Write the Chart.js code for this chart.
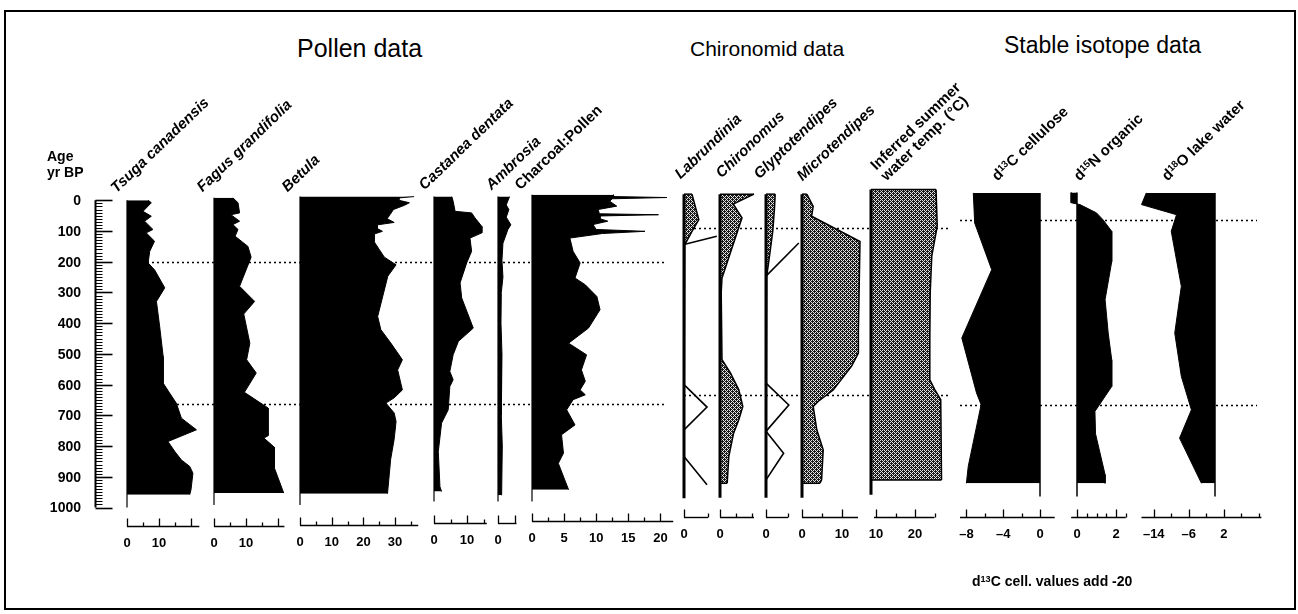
<!DOCTYPE html>
<html>
<head>
<meta charset="utf-8">
<script src="https://cdn.jsdelivr.net/npm/chart.js@4.4.1/dist/chart.umd.min.js"></script>
<style>
  html, body { margin: 0; padding: 0; background: #fff; }
  body { position: relative; width: 1298px; height: 614px; overflow: hidden;
         font-family: "Liberation Sans", Arial, Helvetica, sans-serif; color: #000; }
  #frame { position: absolute; left: 4px; top: 10px; width: 1292px; height: 600px;
           box-sizing: border-box; border: 2px solid #000; }
  canvas { position: absolute; }
  .head { position: absolute; white-space: nowrap; line-height: 1; }
  .ttl { position: absolute; white-space: nowrap; font-weight: bold; font-size: 15px; line-height: 15px;
         transform-origin: 0 100%; transform: rotate(-44deg); }
  .ttl.it { font-style: italic; }
  .lbl { position: absolute; white-space: nowrap; font-weight: bold; }
  sup { font-size: 0.65em; line-height: 0; vertical-align: 0.45em; }
</style>
</head>
<body>
<div id="frame"></div>
<script>
// ---- age axis (yr BP) and zone boundaries ----
const ageTicks = [0, 100, 200, 300, 400, 500, 600, 700, 800, 900, 1000];
const zonesPollen = [200, 662];
const zonesChiro = [90, 633];
const zonesIso = [63, 665];

// ---- pollen percentages ----
const tsugaAge = [0, 8, 36, 52, 68, 95, 106, 133, 166, 204, 226, 285, 329, 410, 508, 595, 627, 660, 709, 747, 785, 817, 845, 866, 888, 942, 958];
const tsugaVal = [6.6, 7.6, 5.0, 7.6, 5.5, 8.1, 6.0, 8.6, 7.1, 6.6, 8.6, 11.8, 9.2, 10.2, 11.3, 11.3, 13.3, 15.4, 17.0, 21.7, 12.8, 14.9, 17.0, 19.6, 20.6, 20.0, 19.6];

const fagusAge = [-8, 8, 41, 47, 68, 79, 95, 117, 150, 185, 280, 329, 370, 465, 519, 562, 625, 676, 766, 774, 804, 872, 953];
const fagusVal = [5.9, 7.5, 8.0, 5.3, 8.0, 5.9, 7.5, 6.6, 10.6, 11.6, 8.0, 12.7, 9.3, 11.2, 10.2, 13.2, 9.5, 16.9, 16.9, 15.6, 18.9, 18.9, 21.8];

const betulaAge = [-12, -8, 0, 8, 16, 30, 45, 60, 72, 80, 92, 101, 110, 135, 160, 185, 210, 247, 378, 421, 464, 519, 552, 617, 643, 660, 692, 720, 778, 843, 955];
const betulaVal = [36, 31.5, 31.2, 34.5, 33, 29.5, 28.5, 27.5, 29.7, 24.4, 24.4, 26, 23.4, 23.4, 25, 26.6, 30.3, 27.7, 24.5, 25.5, 28.6, 32.3, 30.8, 32.3, 29.7, 27.1, 29.7, 30.3, 29.7, 28.6, 27.6];

const castaneaAge = [-12, 3, 36, 41, 57, 85, 106, 123, 166, 204, 269, 318, 416, 459, 503, 557, 584, 606, 682, 725, 818, 932, 948];
const castaneaVal = [5.4, 5.8, 6.4, 11.4, 12.4, 14.5, 14.5, 10.9, 11.4, 9.9, 7.9, 8.4, 11.9, 7.4, 5.8, 4.8, 5.8, 4.8, 4.3, 2.3, 1.3, 1.8, 2.3];

const ambrosiaAge = [-12, 15, 30, 55, 80, 95, 140, 195, 250, 300, 400, 500, 700, 800, 960];
const ambrosiaVal = [3.5, 2.5, 3.3, 2.5, 3.9, 3.0, 1.5, 1.2, 1.5, 1.0, 0.9, 1.2, 1.0, 1.3, 1.1];

const charcoalAge = [-18, -12, -9, -5, 3, 19, 30, 44, 47, 51, 60, 68, 79, 95, 101, 108, 123, 166, 204, 253, 275, 313, 356, 416, 465, 503, 552, 589, 617, 633, 649, 682, 731, 763, 823, 856, 942];
const charcoalVal = [12.7, 12.7, 21, 12.5, 12.1, 13.2, 10.3, 10.5, 19.7, 10.6, 10.6, 11.8, 9.5, 10, 17.6, 11, 5.9, 6.4, 7.5, 6.7, 8.3, 10.1, 10.6, 8.8, 5.7, 8.5, 7.7, 8.3, 7.5, 8.3, 6.4, 5.4, 6.7, 4.6, 4.9, 4.1, 5.7];

// ---- chironomids (%) and exaggeration outlines ----
const labAge = [-20, 63, 101, 144, 920];
const labVal = [2.0, 3.7, 2.0, 0.2, 0];
const labExTopAge = [144, 117];
const labExTopVal = [0, 8.2];
const labExLowAge = [600, 673, 747, 834, 926];
const labExLowVal = [0, 5.75, 0, 0, 5.75];

const chiroAge = [-20, 12, 57, 253, 300, 519, 562, 617, 671, 714, 758, 834, 921];
const chiroVal = [8.5, 3.3, 5.5, 0.5, 0.3, 0.5, 2.6, 4.7, 5.7, 4.7, 3.4, 2.2, 1.8];

const glypAge = [-20, 30, 100, 170, 245, 920];
const glypVal = [2.3, 2.1, 1.7, 1.0, 0.2, 0];
const glypExTopAge = [247, 139];
const glypExTopVal = [0, 8.2];
const glypExLowAge = [595, 666, 752, 823, 910];
const glypExLowVal = [0, 5.7, 0, 4.4, 0];

const microAge = [-20, 20, 52, 134, 421, 497, 540, 617, 654, 671, 747, 812, 910, 921];
const microVal = [1.2, 2.8, 2.4, 14.5, 14.1, 14.1, 12.4, 7.8, 4.1, 2.8, 3.7, 5.3, 4.9, 4.5];

const tempAge = [-35, 84, 182, 300, 450, 584, 617, 649, 910];
const tempVal = [25.4, 25.7, 24.3, 23.9, 23.8, 23.8, 25.1, 26.6, 26.8];

// ---- stable isotopes ----
const d13cAge = [-24, 74, 226, 448, 627, 665, 866, 921];
const d13cVal = [-7.25, -7.1, -5.25, -8.5, -6.9, -6.4, -7.8, -8.0];
const d15nAge = [-25, 8, 14, 41, 63, 101, 200, 323, 432, 519, 606, 687, 760, 893, 921];
const d15nVal = [-0.3, -0.3, 0.15, 1.0, 1.33, 1.78, 1.78, 1.44, 1.6, 1.78, 1.78, 0.92, 0.95, 1.44, 1.44];
const d18oAge = [-24, 14, 47, 101, 280, 432, 573, 682, 774, 921];
const d18oVal = [-15.7, -16.8, -8.8, -10, -7.7, -9.2, -7.7, -5.4, -8.1, -3.1];

// ---- x tick labels ----
const pctLabels = [0, 10];
const betulaLabels = [0, 10, 20, 30];
const charcoalLabels = [0, 5, 10, 15, 20];
const zeroLabel = [0];
const tempLabels = [10, 20];
const d13cLabels = [-8, -4, 0];
const d15nLabels = [0, 2];
const d18oLabels = [-14, -6, 2];

// ---- layout ----
const PAD_X = 20, PAD_T = 8, PAD_B = 60;
const AREA_TOP = 188, AREA_H = 338;
const AGE_MIN = -40, AGE_MAX = 1060;
const CANVAS_TOP = AREA_TOP - PAD_T;
const FONT = '"Liberation Sans", Arial, sans-serif';

// a = page px of value 0, k = px per unit; left/right = chart area extent in page px
const panels = [
  { ages: tsugaAge, vals: tsugaVal, a: 127, k: 3.2, left: 127, right: 214, zones: zonesPollen, baseW: 1.2, baseEnd: 1000,
    axisY: 526, axis: [0, 22.6], tick0: 0, step: 5, labels: pctLabels, major: [20] },
  { ages: fagusAge, vals: fagusVal, a: 214, k: 3.2, left: 214, right: 300, zones: zonesPollen, baseW: 1.2, baseEnd: 992,
    axisY: 526, axis: [0, 22], tick0: 0, step: 5, labels: pctLabels, major: [20] },
  { ages: betulaAge, vals: betulaVal, a: 300, k: 3.17, left: 300, right: 434, zones: zonesPollen, baseW: 1.2, baseEnd: 992,
    axisY: 525, axis: [0, 37.3], tick0: 0, step: 5, labels: betulaLabels },
  { ages: castaneaAge, vals: castaneaVal, a: 434, k: 3.3, left: 434, right: 498, zones: zonesPollen, baseW: 1.2, baseEnd: 980,
    axisY: 523, axis: [0, 16], tick0: 0, step: 5, labels: pctLabels },
  { ages: ambrosiaAge, vals: ambrosiaVal, a: 498, k: 3.3, left: 498, right: 532, zones: zonesPollen, baseW: 1.2, baseEnd: 980,
    axisY: 523, axis: [0, 5.6], tick0: 0, step: 5, labels: zeroLabel, major: [5] },
  { ages: charcoalAge, vals: charcoalVal, a: 532, k: 6.42, left: 532, right: 667, zones: zonesPollen, baseW: 1.2, baseEnd: 980,
    axisY: 521, axis: [0, 22], tick0: 0, step: 2.5, labels: charcoalLabels },

  { ages: labAge, vals: labVal, a: 684, k: 4, left: 684, right: 720, zones: zonesChiro, baseW: 3, baseEnd: 970, pattern: true,
    outlines: [[labExTopAge, labExTopVal], [labExLowAge, labExLowVal]],
    axisY: 517, axis: [0, 6], tick0: 0, step: 6, labels: zeroLabel },
  { ages: chiroAge, vals: chiroVal, a: 720, k: 4, left: 720, right: 766, zones: zonesChiro, baseW: 3, baseEnd: 968, pattern: true,
    axisY: 517, axis: [0, 8.5], tick0: 0, step: 4, labels: zeroLabel },
  { ages: glypAge, vals: glypVal, a: 766, k: 4, left: 766, right: 802, zones: zonesChiro, baseW: 3, baseEnd: 968, pattern: true,
    outlines: [[glypExTopAge, glypExTopVal], [glypExLowAge, glypExLowVal]],
    axisY: 517, axis: [0, 5.5], tick0: 0, step: 5.5, labels: zeroLabel },
  { ages: microAge, vals: microVal, a: 802, k: 4, left: 802, right: 871, zones: zonesChiro, baseW: 3, baseEnd: 968, pattern: true,
    axisY: 517, axis: [0, 14], tick0: 0, step: 5, labels: pctLabels },
  { ages: tempAge, vals: tempVal, a: 837, k: 3.9, left: 871, right: 948, zones: zonesChiro, baseW: 3, baseEnd: 958, pattern: true, baseAtLeft: true,
    axisY: 517, axis: [9.5, 25], tick0: 10, step: 5, labels: tempLabels },

  { ages: d13cAge, vals: d13cVal, a: 1040, k: 9.2, left: 960, right: 1070, zones: zonesIso, baseW: 1.5, baseEnd: 964,
    axisY: 517, axis: [-8.7, 1.6], tick0: -8, step: 2, labels: d13cLabels },
  { ages: d15nAge, vals: d15nVal, a: 1077, k: 19.5, left: 1070, right: 1141, zones: zonesIso, baseW: 1.5, baseEnd: 964,
    axisY: 517, axis: [-0.3, 2.5], tick0: 0, step: 0.5, labels: d15nLabels },
  { ages: d18oAge, vals: d18oVal, a: 1215, k: 4.375, left: 1141, right: 1257, zones: zonesIso, baseW: 1.5, baseEnd: 964,
    axisY: 517, axis: [-16.8, 10.6], tick0: -14, step: 4, labels: d18oLabels }
];

// stippled grey, like the scanned screen tone
function grain(ctx) {
  const t = document.createElement('canvas');
  t.width = 4; t.height = 4;
  const g = t.getContext('2d');
  g.fillStyle = '#e4e4e4'; g.fillRect(0, 0, 4, 4);
  g.fillStyle = '#1a1a1a';
  ['1010', '0111', '1010', '1101'].forEach((row, j) => {
    [...row].forEach((c, i) => { if (c === '1') g.fillRect(i, j, 1, 1); });
  });
  return ctx.createPattern(t, 'repeat');
}

function series(ages, vals) {
  return ages.map((age, i) => ({ x: vals[i], y: age }));
}

function fmt(v) {
  return v < 0 ? '\u2013' + Math.abs(v) : String(v);
}

// zone lines under the curves, zero line + x axis (ticks pointing up) on top
function panelPlugin(p, base) {
  return {
    id: 'strat',
    beforeDatasetsDraw(chart) {
      const { ctx, chartArea: ca, scales: { y } } = chart;
      ctx.save();
      ctx.strokeStyle = '#000';
      ctx.lineWidth = 1.6;
      ctx.setLineDash([2, 3]);
      p.zones.forEach(age => {
        const py = Math.round(y.getPixelForValue(age)) + 0.5;
        ctx.beginPath(); ctx.moveTo(ca.left, py); ctx.lineTo(ca.right, py); ctx.stroke();
      });
      ctx.restore();
    },
    afterDatasetsDraw(chart) {
      const { ctx, scales: { x, y } } = chart;
      ctx.save();
      ctx.strokeStyle = '#000';
      ctx.fillStyle = '#000';
      const bx = x.getPixelForValue(base);
      ctx.lineWidth = p.baseW;
      ctx.beginPath();
      ctx.moveTo(bx, y.getPixelForValue(p.ages[0]));
      ctx.lineTo(bx, y.getPixelForValue(p.baseEnd));
      ctx.stroke();

      if (p.pattern) {
        const pts = chart.getDatasetMeta(0).data;
        ctx.lineWidth = 1.5;
        [pts[0], pts[pts.length - 1]].forEach(pt => {
          ctx.beginPath(); ctx.moveTo(bx, pt.y); ctx.lineTo(pt.x, pt.y); ctx.stroke();
        });
      }

      const ay = p.axisY - CANVAS_TOP + 0.5;
      ctx.lineWidth = 1.4;
      ctx.beginPath();
      ctx.moveTo(x.getPixelForValue(p.axis[0]), ay);
      ctx.lineTo(x.getPixelForValue(p.axis[1]), ay);
      ctx.stroke();

      const major = p.labels.concat(p.major || []);
      ctx.lineWidth = 1.3;
      for (let v = p.tick0; v <= p.axis[1] + 1e-9; v += p.step) {
        const px = Math.round(x.getPixelForValue(v)) + 0.5;
        const h = major.some(m => Math.abs(m - v) < 1e-6) ? 8 : 4;
        ctx.beginPath(); ctx.moveTo(px, ay); ctx.lineTo(px, ay - h); ctx.stroke();
      }

      ctx.font = 'bold 13px ' + FONT;
      ctx.textAlign = 'center';
      ctx.textBaseline = 'middle';
      p.labels.forEach(v => ctx.fillText(fmt(v), x.getPixelForValue(v), ay + 17));
      ctx.restore();
    }
  };
}

function addCanvas(left, right) {
  const w = right - left + 2 * PAD_X, h = AREA_H + PAD_T + PAD_B;
  const cv = document.createElement('canvas');
  cv.width = w; cv.height = h;
  cv.style.left = (left - PAD_X) + 'px';
  cv.style.top = CANVAS_TOP + 'px';
  cv.style.width = w + 'px';
  cv.style.height = h + 'px';
  document.body.appendChild(cv);
  return cv;
}

function baseOptions(xmin, xmax) {
  return {
    indexAxis: 'y',
    responsive: false,
    animation: false,
    devicePixelRatio: 1,
    events: [],
    layout: { padding: { left: PAD_X, right: PAD_X, top: PAD_T, bottom: PAD_B } },
    scales: {
      x: { type: 'linear', min: xmin, max: xmax, display: false },
      y: { type: 'linear', min: AGE_MIN, max: AGE_MAX, reverse: true, display: false }
    },
    plugins: { legend: { display: false }, tooltip: { enabled: false } }
  };
}

function makePanel(p) {
  const cv = addCanvas(p.left, p.right);
  const ctx = cv.getContext('2d');
  const xmin = (p.left - p.a) / p.k;
  const xmax = (p.right - p.a) / p.k;
  const base = p.baseAtLeft ? xmin : 0;

  const datasets = [{
    data: series(p.ages, p.vals),
    fill: { value: base },
    backgroundColor: p.pattern ? grain(ctx) : '#000',
    borderColor: '#000',
    borderWidth: p.pattern ? 1.5 : 1,
    pointRadius: 0,
    tension: 0,
    clip: false
  }];
  (p.outlines || []).forEach(([ages, vals]) => {
    datasets.push({
      data: series(ages, vals), fill: false, borderColor: '#000', borderWidth: 1.6,
      pointRadius: 0, tension: 0, clip: false
    });
  });

  new Chart(cv, {
    type: 'line',
    data: { datasets },
    options: baseOptions(xmin, xmax),
    plugins: [panelPlugin(p, base)]
  });
}

// age ruler on the left
function makeRuler() {
  const left = 40, right = 120;
  const cv = addCanvas(left, right);
  new Chart(cv, {
    type: 'line',
    data: { datasets: [] },
    options: baseOptions(0, 1),
    plugins: [{
      id: 'ruler',
      afterDraw(chart) {
        const { ctx, chartArea: ca, scales: { y } } = chart;
        const lx = ca.left + 55.5;
        ctx.save();
        ctx.strokeStyle = '#000';
        ctx.fillStyle = '#000';
        ctx.lineWidth = 2;
        ctx.beginPath();
        ctx.moveTo(lx, y.getPixelForValue(ageTicks[0]));
        ctx.lineTo(lx, y.getPixelForValue(ageTicks[ageTicks.length - 1]));
        ctx.stroke();
        for (let a = ageTicks[0]; a <= ageTicks[ageTicks.length - 1]; a += 10) {
          const py = Math.round(y.getPixelForValue(a)) + 0.5;
          const len = a % 100 === 0 ? 17 : 7;
          ctx.lineWidth = a % 100 === 0 ? 1.6 : 1;
          ctx.beginPath(); ctx.moveTo(lx, py); ctx.lineTo(lx + len, py); ctx.stroke();
        }
        ctx.font = 'bold 14px ' + FONT;
        ctx.textAlign = 'right';
        ctx.textBaseline = 'middle';
        ageTicks.forEach(a => ctx.fillText(String(a), ca.left + 41, y.getPixelForValue(a) + 1));
        ctx.restore();
      }
    }]
  });
}

makeRuler();
panels.forEach(makePanel);

// ---- texts ----
const heads = [
  ['Pollen data', 297, 36, 25],
  ['Chironomid data', 690, 38, 21],
  ['Stable isotope data', 1004, 34, 23]
];
heads.forEach(([t, x, y, s]) => {
  const d = document.createElement('div');
  d.className = 'head';
  d.textContent = t;
  d.style.left = x + 'px'; d.style.top = y + 'px'; d.style.fontSize = s + 'px';
  document.body.appendChild(d);
});

const titles = [
  ['Tsuga canadensis', 118, 193, true],
  ['Fagus grandifolia', 204, 192, true],
  ['Betula', 289, 192, true],
  ['Castanea dentata', 426, 190, true],
  ['Ambrosia', 493, 190, true],
  ['Charcoal:Pollen', 522, 190, false],
  ['Labrundinia', 682, 179, true],
  ['Chironomus', 723, 178, true],
  ['Glyptotendipes', 761, 179, true],
  ['Microtendipes', 804, 181, true],
  ['Inferred summer<br>water temp. (\u00B0C)', 888, 181, false],
  ['d<sup>13</sup>C cellulose', 999, 181, false],
  ['d<sup>15</sup>N organic', 1081, 181, false],
  ['d<sup>18</sup>O lake water', 1169, 181, false]
];
titles.forEach(([t, x, y, it]) => {
  const d = document.createElement('div');
  d.className = 'ttl' + (it ? ' it' : '');
  d.innerHTML = t;
  document.body.appendChild(d);
  d.style.left = x + 'px';
  d.style.top = (y + 2 - d.offsetHeight) + 'px';
});

const age = document.createElement('div');
age.className = 'lbl';
age.style.cssText = 'left:47px;top:148px;font-size:14px;line-height:16px;';
age.innerHTML = 'Age<br>yr BP';
document.body.appendChild(age);

const cap = document.createElement('div');
cap.className = 'lbl';
cap.style.cssText = 'left:972px;top:574px;font-size:14px;line-height:15px;';
cap.innerHTML = 'd<sup>13</sup>C cell. values add -20';
document.body.appendChild(cap);
</script>
</body>
</html>
